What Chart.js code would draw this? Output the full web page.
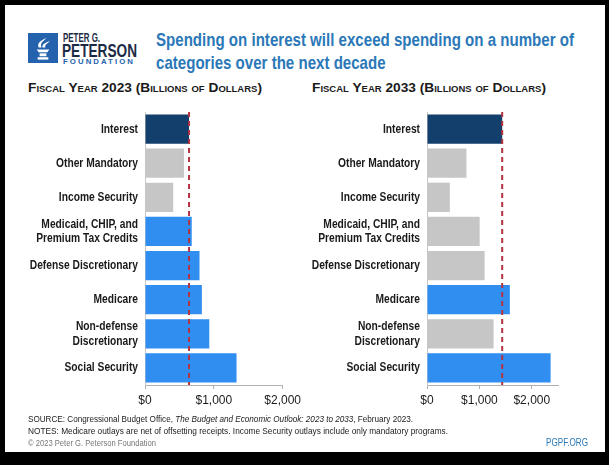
<!DOCTYPE html>
<html>
<head>
<meta charset="utf-8">
<script src="https://cdn.jsdelivr.net/npm/chart.js@4"></script>
<style>
  body { margin: 0; background: #000; width: 609px; height: 465px; overflow: hidden;
         font-family: "Liberation Sans", Arial, sans-serif; }
  #card { position: absolute; left: 5px; top: 5px; width: 600px; height: 447px; background: #fff; }
  .abs { position: absolute; white-space: nowrap; transform-origin: 0 0; }
  #title { left: 156px; top: 28px; font-size: 18.5px; line-height: 23px; font-weight: bold; color: #2b78b8; }
  .sub { top: 80px; font-size: 13px; font-weight: bold; font-variant: small-caps; color: #1a1a1a; }
  .foot { font-size: 9.5px; color: #1a1a1a; }
  canvas { position: absolute; }
</style>
</head>
<body>
<div id="card"></div>

<!-- logo -->
<svg class="abs" style="left:28px;top:33px" width="30" height="30" viewBox="0 0 31 31">
  <rect width="31" height="31" fill="#2462ad"/>
  <path d="M9 17 h13 l-2 3 h-9 z" fill="#fff"/>
  <rect x="12" y="21" width="7" height="3" fill="#fff"/>
  <rect x="10" y="25" width="11" height="2.5" fill="#fff"/>
  <path d="M11 15 C9 10 14 8 19 5 C16 9 12 10 14 15 z" fill="#fff"/>
  <path d="M15 15 C14 11 19 10 23 8 C20 11 17 12 18 15 z" fill="#fff"/>
</svg>
<div class="abs" data-w="37" style="left:63px;top:31px;font-size:12px;font-weight:bold;color:#1c2b45">PETER G.</div>
<div class="abs" data-w="75" style="left:62px;top:41px;font-size:18px;font-weight:bold;color:#1c2b45">PETERSON</div>
<div class="abs" data-w="72" style="left:63px;top:57px;font-size:7.5px;font-weight:bold;letter-spacing:2px;color:#2462ad">FOUNDATION</div>

<div id="title" class="abs" data-w="418">Spending on interest will exceed spending on a number of<br>categories over the next decade</div>
<div class="abs sub" data-w="234" style="left:28px">Fiscal Year 2023 (Billions of Dollars)</div>
<div class="abs sub" data-w="234" style="left:312px">Fiscal Year 2033 (Billions of Dollars)</div>

<canvas id="chart2023" width="300" height="315" style="left:5px;top:100px"></canvas>
<canvas id="chart2033" width="300" height="315" style="left:305px;top:100px"></canvas>

<div class="abs foot" data-w="385" style="left:28px;top:413px">SOURCE: Congressional Budget Office, <i>The Budget and Economic Outlook: 2023 to 2033</i>, February 2023.</div>
<div class="abs foot" data-w="420" style="left:28px;top:425px">NOTES: Medicare outlays are net of offsetting receipts. Income Security outlays include only mandatory programs.</div>
<div class="abs foot" data-w="128" style="left:28px;top:437px;color:#777">© 2023 Peter G. Peterson Foundation</div>
<div class="abs foot" data-w="42" style="left:546px;top:437px;font-size:10px;color:#2b78b8">PGPF.ORG</div>

<script>
const categories = [
  'Interest',
  'Other Mandatory',
  'Income Security',
  ['Medicaid, CHIP, and', 'Premium Tax Credits'],
  'Defense Discretionary',
  'Medicare',
  ['Non-defense', 'Discretionary'],
  'Social Security'
];
const spending2023 = [640, 566, 410, 679, 792, 826, 934, 1330];
const spending2033 = [1435, 753, 436, 1005, 1100, 1581, 1271, 2359];
const xTicks = [0, 1000, 2000];

const NAVY = '#123f6b';
const GRAY = '#c6c6c6';
const BLUE = '#2f8ef0';
const colors2023 = [NAVY, GRAY, GRAY, BLUE, BLUE, BLUE, BLUE, BLUE];
const colors2033 = [NAVY, GRAY, GRAY, GRAY, GRAY, BLUE, GRAY, BLUE];

// squeeze the html text to the widths of the narrow font in the original
document.querySelectorAll('[data-w]').forEach(el => {
  const w = el.getBoundingClientRect().width;
  el.style.transform = `scaleX(${el.dataset.w / w})`;
});

// dashed line at the Interest value
const interestLine = {
  id: 'interestLine',
  afterDatasetsDraw(chart) {
    const { ctx, chartArea, scales } = chart;
    const x = scales.x.getPixelForValue(chart.data.datasets[0].data[0]);
    ctx.save();
    ctx.strokeStyle = '#b3333f';
    ctx.lineWidth = 2;
    ctx.setLineDash([5, 4]);
    ctx.beginPath();
    ctx.moveTo(x, chartArea.top);
    ctx.lineTo(x, chartArea.bottom);
    ctx.stroke();
    ctx.restore();
  }
};

// category labels in a condensed bold face (no narrow font installed)
const narrowLabels = {
  id: 'narrowLabels',
  afterDraw(chart) {
    const { ctx, scales } = chart;
    const y = scales.y;
    ctx.save();
    ctx.font = 'bold 12.5px "Liberation Sans", Arial, sans-serif';
    ctx.fillStyle = '#1a1a1a';
    ctx.textAlign = 'right';
    ctx.textBaseline = 'middle';
    y.ticks.forEach((t, i) => {
      const lines = [].concat(categories[i]);
      const cy = y.getPixelForTick(i);
      ctx.save();
      ctx.translate(y.right - 7, cy);
      ctx.scale(0.82, 1);
      lines.forEach((line, k) => {
        ctx.fillText(line, 0, (k - (lines.length - 1) / 2) * 14.5);
      });
      ctx.restore();
    });
    ctx.restore();
  }
};

function makeChart(id, values, colors, max, yWidth, padRight) {
  return new Chart(document.getElementById(id), {
    type: 'bar',
    data: {
      labels: categories,
      datasets: [{
        data: values,
        backgroundColor: colors,
        categoryPercentage: 1,
        barPercentage: 0.86
      }]
    },
    options: {
      indexAxis: 'y',
      responsive: false,
      animation: false,
      layout: { padding: { top: 12, right: padRight, left: 0, bottom: 0 } },
      plugins: { legend: { display: false }, tooltip: { enabled: false } },
      scales: {
        x: {
          min: 0,
          max: max,
          afterBuildTicks: s => { s.ticks = xTicks.map(v => ({ value: v })); },
          afterFit: s => { s.height = 30; },
          grid: { display: true, drawOnChartArea: false, drawTicks: true, tickLength: 4, color: '#b0b0b0' },
          border: { display: true, color: '#b0b0b0' },
          ticks: {
            padding: 4,
            color: '#1a1a1a',
            font: { family: '"Liberation Sans", Arial, sans-serif', size: 12 },
            maxRotation: 0,
            callback: v => '$' + v.toLocaleString('en-US')
          }
        },
        y: {
          afterFit: s => { s.width = yWidth; },
          grid: { display: false },
          border: { display: true, color: '#c8c8c8' },
          ticks: { display: false }
        }
      }
    },
    plugins: [interestLine, narrowLabels]
  });
}

makeChart('chart2023', spending2023, colors2023, 2000, 140, 18);
makeChart('chart2033', spending2033, colors2033, 2500, 122, 47);
</script>
</body>
</html>
